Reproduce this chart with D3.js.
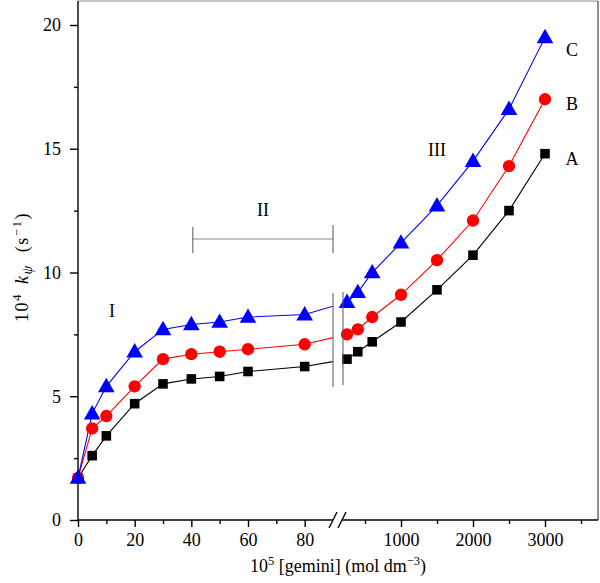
<!DOCTYPE html>
<html>
<head>
<meta charset="utf-8">
<script src="https://cdn.jsdelivr.net/npm/d3@7"></script>
<style>
  html, body { margin: 0; padding: 0; background: #fff; }
  svg { display: block; font-family: "Liberation Serif", "DejaVu Serif", serif; }
</style>
</head>
<body>
<svg id="chart" width="600" height="583"></svg>
<script>
// ---- data ----
const concentrations = [0, 5, 10, 20, 30, 40, 50, 60, 80, 250, 400, 600, 1000, 1500, 2000, 2500, 3000];
const seriesA = [1.7, 2.6, 3.4, 4.7, 5.5, 5.7, 5.8, 6.0, 6.2, 6.5, 6.8, 7.2, 8.0, 9.3, 10.7, 12.5, 14.8];
const seriesB = [1.7, 3.7, 4.2, 5.4, 6.5, 6.7, 6.8, 6.9, 7.1, 7.5, 7.7, 8.2, 9.1, 10.5, 12.1, 14.3, 17.0];
const seriesC = [1.7, 4.3, 5.4, 6.8, 7.7, 7.9, 8.0, 8.2, 8.3, 8.8, 9.2, 10.0, 11.2, 12.7, 14.5, 16.6, 19.5];
const seriesNames = ["A", "B", "C"];
const leftMajorTicks = [0, 20, 40, 60, 80];
const leftMinorTicks = [10, 30, 50, 70];
const rightMajorTicks = [1000, 2000, 3000];
const rightMinorTicks = [500, 1500, 2500, 3500];
const yMajorTicks = [0, 5, 10, 15, 20];
const yMinorTicks = [2.5, 7.5, 12.5, 17.5];
const regionLabels = ["I", "II", "III"];

// ---- layout ----
const svg = d3.select("#chart");
const plotLeft = 78, plotRight = 598, plotTop = 1, plotBottom = 520;
const breakL = 333, breakR = 343;

const y = d3.scaleLinear().domain([0, 20]).range([plotBottom, 25]);
const xL = d3.scaleLinear().domain([0, 90]).range([plotLeft, breakL]);
const xR = d3.scaleLinear().domain([1000, 3000]).range([401, 545]);
const x = v => (v <= 100 ? xL(v) : xR(v));

// clip paths for the broken axis
const defs = svg.append("defs");
defs.append("clipPath").attr("id", "clipL").append("rect")
  .attr("x", 0).attr("y", 0).attr("width", breakL).attr("height", 583);
defs.append("clipPath").attr("id", "clipR").append("rect")
  .attr("x", breakR).attr("y", 0).attr("width", 600 - breakR).attr("height", 583);

// frame (top/right)
svg.append("line").attr("x1", plotLeft).attr("x2", plotRight).attr("y1", plotTop).attr("y2", plotTop)
  .attr("stroke", "#8a8a8a").attr("stroke-width", 1);
svg.append("line").attr("x1", plotRight).attr("x2", plotRight).attr("y1", plotTop).attr("y2", plotBottom)
  .attr("stroke", "#222").attr("stroke-width", 1);

// ---- axes ----
const fontSize = 18;
function styleAxis(g) {
  g.selectAll("text").attr("font-family", "Liberation Serif, serif").attr("font-size", fontSize).attr("fill", "#000");
  g.selectAll("line").attr("stroke", "#000").attr("stroke-width", 1.4);
}

// left x
const gxL = svg.append("g").attr("transform", `translate(0,${plotBottom})`)
  .call(d3.axisBottom(xL).tickValues(leftMajorTicks).tickSize(7).tickPadding(6).tickFormat(d3.format("d")));
gxL.select(".domain").remove();
styleAxis(gxL);
const gxLm = svg.append("g").attr("transform", `translate(0,${plotBottom})`)
  .call(d3.axisBottom(xL).tickValues(leftMinorTicks).tickSize(4).tickFormat(""));
gxLm.select(".domain").remove();
styleAxis(gxLm);

// right x
const gxR = svg.append("g").attr("transform", `translate(0,${plotBottom})`)
  .call(d3.axisBottom(xR).tickValues(rightMajorTicks).tickSize(7).tickPadding(6).tickFormat(d3.format("d")));
gxR.select(".domain").remove();
styleAxis(gxR);
const gxRm = svg.append("g").attr("transform", `translate(0,${plotBottom})`)
  .call(d3.axisBottom(xR).tickValues(rightMinorTicks).tickSize(4).tickFormat(""));
gxRm.select(".domain").remove();
styleAxis(gxRm);

// x axis line with break marks
svg.append("line").attr("x1", plotLeft).attr("x2", plotRight).attr("y1", plotBottom).attr("y2", plotBottom)
  .attr("stroke", "#000").attr("stroke-width", 1.4);
svg.append("rect").attr("x", 333).attr("y", plotBottom - 2).attr("width", 9).attr("height", 4).attr("fill", "#fff");
[333, 342].forEach(cx => {
  svg.append("line").attr("x1", cx - 4).attr("x2", cx + 4).attr("y1", plotBottom + 8).attr("y2", plotBottom - 8)
    .attr("stroke", "#000").attr("stroke-width", 1.4);
});

// y axis
const gy = svg.append("g").attr("transform", `translate(${plotLeft},0)`)
  .call(d3.axisLeft(y).tickValues(yMajorTicks).tickSize(8).tickPadding(9).tickFormat(d3.format("d")));
gy.select(".domain").remove();
styleAxis(gy);
const gym = svg.append("g").attr("transform", `translate(${plotLeft},0)`)
  .call(d3.axisLeft(y).tickValues(yMinorTicks).tickSize(4).tickFormat(""));
gym.select(".domain").remove();
styleAxis(gym);
svg.append("line").attr("x1", plotLeft).attr("x2", plotLeft).attr("y1", plotTop).attr("y2", plotBottom)
  .attr("stroke", "#000").attr("stroke-width", 1.4);

// axis titles
const xt = svg.append("text").attr("x", 338).attr("y", 572).attr("text-anchor", "middle")
  .attr("font-size", fontSize).attr("fill", "#000");
xt.append("tspan").text("10");
xt.append("tspan").attr("dy", -7).attr("font-size", 12.5).text("5");
xt.append("tspan").attr("dy", 7).text(" [gemini] (mol dm");
xt.append("tspan").attr("dy", -7).attr("font-size", 12.5).text("\u22123");
xt.append("tspan").attr("dy", 7).text(")");

const yt = svg.append("text").attr("transform", "translate(28,267) rotate(-90)").attr("text-anchor", "middle")
  .attr("font-size", fontSize).attr("fill", "#000").attr("letter-spacing", 1.5);
yt.append("tspan").text("10");
yt.append("tspan").attr("dy", -7).attr("font-size", 13).text("4");
yt.append("tspan").attr("dy", 7).attr("dx", 9).attr("font-style", "italic").text("k");
yt.append("tspan").attr("dy", 4).attr("font-size", 14).attr("font-style", "italic").text("\u03c8");
yt.append("tspan").attr("dy", -4).attr("dx", 12).text("(s");
yt.append("tspan").attr("dy", -7).attr("font-size", 13).text("\u22121");
yt.append("tspan").attr("dy", 7).text(")");

// ---- series ----
const seriesValues = [seriesA, seriesB, seriesC];
const colors = ["#000000", "#ff0000", "#0000ff"];
const symbols = [d3.symbolSquare, d3.symbolCircle, d3.symbolTriangle];
const sizes = [92, 120, 120];

const line = d3.line().x((d, i) => x(concentrations[i])).y(d => y(d));

seriesValues.forEach((vals, si) => {
  ["clipL", "clipR"].forEach(cid => {
    svg.append("path").datum(vals).attr("d", line).attr("fill", "none")
      .attr("stroke", colors[si]).attr("stroke-width", 1.1).attr("clip-path", `url(#${cid})`);
  });
});
seriesValues.forEach((vals, si) => {
  svg.append("g").selectAll("path").data(vals).join("path")
    .attr("d", d3.symbol().type(symbols[si]).size(sizes[si]))
    .attr("transform", (d, i) => `translate(${x(concentrations[i])},${y(d) + (si === 2 ? 1 : 0)})`)
    .attr("fill", colors[si]);
});

// break lines
svg.append("line").attr("x1", breakL).attr("x2", breakL).attr("y1", 293).attr("y2", 387)
  .attr("stroke", "#555").attr("stroke-width", 1);
svg.append("line").attr("x1", breakR).attr("x2", breakR).attr("y1", 292).attr("y2", 385)
  .attr("stroke", "#555").attr("stroke-width", 1);

// series labels
const labelY = [14.6, 16.8, 19.0];
seriesNames.forEach((n, i) => {
  svg.append("text").attr("x", xR(3000) + 27).attr("y", y(labelY[i]) + 6).attr("text-anchor", "middle")
    .attr("font-size", fontSize).attr("fill", "#000").text(n);
});

// region labels
svg.append("text").attr("x", 112).attr("y", 317).attr("text-anchor", "middle")
  .attr("font-size", fontSize).text(regionLabels[0]);
svg.append("text").attr("x", 263).attr("y", 216).attr("text-anchor", "middle")
  .attr("font-size", fontSize).text(regionLabels[1]);
svg.append("text").attr("x", 437).attr("y", 156).attr("text-anchor", "middle")
  .attr("font-size", fontSize).text(regionLabels[2]);

// region II bracket
const bx1 = xL(40) + 1.5, bx2 = breakL;
svg.append("line").attr("x1", bx1).attr("x2", bx2).attr("y1", 239).attr("y2", 239).attr("stroke", "#888").attr("stroke-width", 1.2);
svg.append("line").attr("x1", bx1).attr("x2", bx1).attr("y1", 227).attr("y2", 253).attr("stroke", "#555").attr("stroke-width", 1);
svg.append("line").attr("x1", bx2).attr("x2", bx2).attr("y1", 225).attr("y2", 253).attr("stroke", "#555").attr("stroke-width", 1);
</script>
</body>
</html>
